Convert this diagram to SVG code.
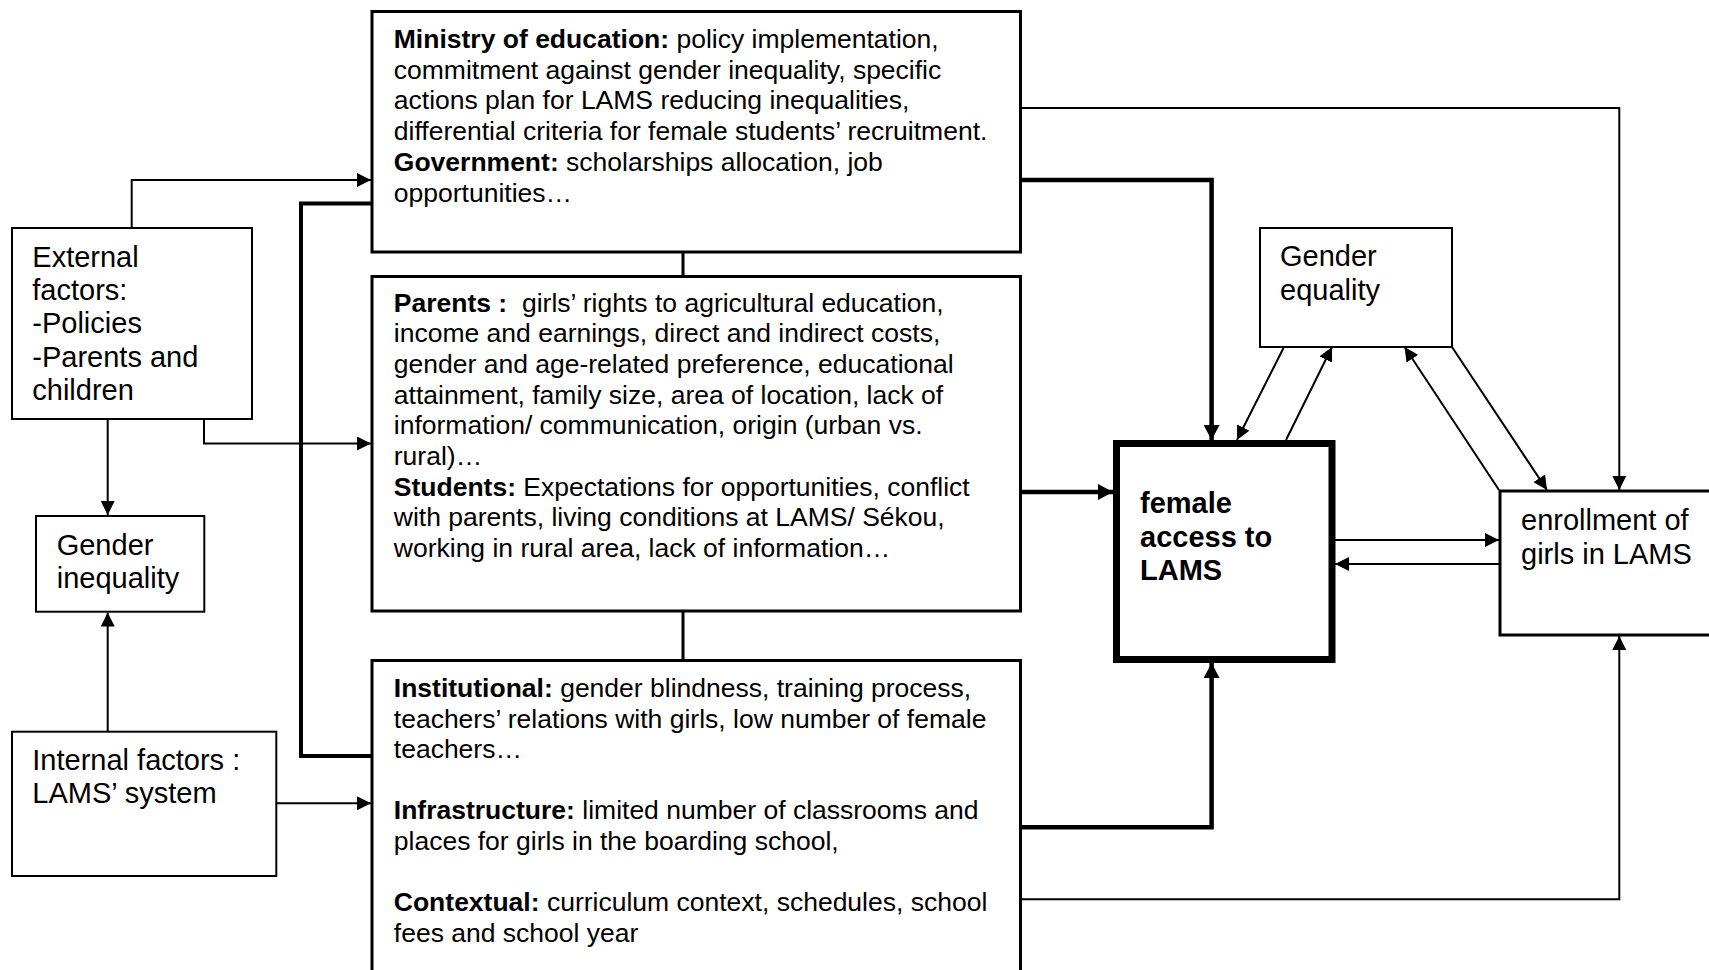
<svg xmlns="http://www.w3.org/2000/svg" width="1709" height="970" viewBox="0 0 1709 970">
  <style>
    .txt { font-family: "Liberation Sans", Arial, sans-serif; fill: #000; }
    .body { font-size: 26.5px; }
    .lbl { font-size: 29px; }
    .b { font-weight: bold; }
    .box { fill: #fff; stroke: #000; }
    .thin { stroke-width: 2; }
    .mid { stroke-width: 3; }
    .heavy { stroke-width: 7; }
    .conn { fill: none; stroke: #000; }
    .c-thin { stroke-width: 2; }
    .c-thick { stroke-width: 4.5; }
  </style>
  <defs>
    <marker id="arr" viewBox="0 0 14 14" refX="14" refY="7" markerWidth="14" markerHeight="14" markerUnits="userSpaceOnUse" orient="auto">
      <path d="M0,0 L14,7 L0,14 z" fill="#000"/>
    </marker>
    <marker id="arrL" viewBox="0 0 15 16" refX="15" refY="8" markerWidth="15" markerHeight="16" markerUnits="userSpaceOnUse" orient="auto">
      <path d="M0,0 L15,8 L0,16 z" fill="#000"/>
    </marker>
  </defs>
  <rect width="1709" height="970" fill="#fff"/>

  <!-- connectors -->
  <g id="connectors">
    <!-- external factors to ministry / parents / gender inequality -->
    <path class="conn c-thin" d="M131.7,228 V180 H371" marker-end="url(#arr)"/>
    <path class="conn c-thin" d="M204,419 V443.5 H371" marker-end="url(#arr)"/>
    <path class="conn c-thin" d="M107.7,419 V515" marker-end="url(#arr)"/>
    <!-- internal factors to gender inequality / institutional -->
    <path class="conn c-thin" d="M107.7,731.7 V612.5" marker-end="url(#arr)"/>
    <path class="conn c-thin" d="M276,803.3 H371" marker-end="url(#arr)"/>
    <!-- bracket linking ministry and institutional -->
    <path class="conn" stroke-width="4" d="M372,203.5 H301 V756 H372"/>
    <!-- links between the three stacked boxes -->
    <path class="conn mid" d="M683,252 V275"/>
    <path class="conn mid" d="M683,612 V660"/>
    <!-- thick arrows into female access -->
    <path class="conn c-thick" d="M1021,180 H1211.6 V440" marker-end="url(#arrL)"/>
    <path class="conn c-thick" d="M1021,492 H1113" marker-end="url(#arrL)"/>
    <path class="conn c-thick" d="M1021,827.3 H1211.6 V663" marker-end="url(#arrL)"/>
    <!-- thin arrows into enrollment -->
    <path class="conn c-thin" d="M1021,108 H1619.3 V490" marker-end="url(#arr)"/>
    <path class="conn c-thin" d="M1021,899.3 H1619.3 V636" marker-end="url(#arr)"/>
    <!-- female access <-> enrollment -->
    <path class="conn c-thin" d="M1335,540 H1499" marker-end="url(#arr)"/>
    <path class="conn c-thin" d="M1499,564 H1335" marker-end="url(#arr)"/>
    <!-- gender equality <-> female access -->
    <path class="conn c-thin" d="M1284,347 L1237,440" marker-end="url(#arr)"/>
    <path class="conn c-thin" d="M1286,440 L1332,347" marker-end="url(#arr)"/>
    <!-- gender equality <-> enrollment -->
    <path class="conn c-thin" d="M1452,347 L1547,490" marker-end="url(#arr)"/>
    <path class="conn c-thin" d="M1499,490 L1404.6,347" marker-end="url(#arr)"/>
  </g>

  <g id="ministry">
    <rect class="box mid" x="372" y="11.5" width="648.5" height="240.5"/>
    <text class="txt body">
      <tspan x="393.8" y="48"><tspan class="b">Ministry of education:</tspan> policy implementation,</tspan>
      <tspan x="393.8" y="78.7">commitment against gender inequality, specific</tspan>
      <tspan x="393.8" y="109.4">actions plan for LAMS reducing inequalities,</tspan>
      <tspan x="393.8" y="140.1">differential criteria for female students’ recruitment.</tspan>
      <tspan x="393.8" y="170.8"><tspan class="b">Government:</tspan> scholarships allocation, job</tspan>
      <tspan x="393.8" y="201.5">opportunities…</tspan>
    </text>
  </g>

  <g id="parents">
    <rect class="box mid" x="372" y="276.5" width="648.5" height="334.5"/>
    <text class="txt body" xml:space="preserve"><tspan x="393.8" y="311.7"><tspan class="b">Parents :</tspan>  girls’ rights to agricultural education,</tspan><tspan x="393.8" y="342.3">income and earnings, direct and indirect costs,</tspan><tspan x="393.8" y="373">gender and age-related preference, educational</tspan><tspan x="393.8" y="403.7">attainment, family size, area of location, lack of</tspan><tspan x="393.8" y="434.3">information/ communication, origin (urban vs.</tspan><tspan x="393.8" y="465">rural)…</tspan><tspan x="393.8" y="495.7"><tspan class="b">Students:</tspan> Expectations for opportunities, conflict</tspan><tspan x="393.8" y="526.3">with parents, living conditions at LAMS/ Sékou,</tspan><tspan x="393.8" y="557">working in rural area, lack of information…</tspan></text>
  </g>

  <g id="institutional">
    <rect class="box mid" x="372" y="660.5" width="648.5" height="320"/>
    <text class="txt body">
      <tspan x="393.8" y="697"><tspan class="b">Institutional:</tspan> gender blindness, training process,</tspan>
      <tspan x="393.8" y="727.7">teachers’ relations with girls, low number of female</tspan>
      <tspan x="393.8" y="758.3">teachers…</tspan>
      <tspan x="393.8" y="819"><tspan class="b">Infrastructure:</tspan> limited number of classrooms and</tspan>
      <tspan x="393.8" y="849.7">places for girls in the boarding school,</tspan>
      <tspan x="393.8" y="911"><tspan class="b">Contextual:</tspan> curriculum context, schedules, school</tspan>
      <tspan x="393.8" y="941.7">fees and school year</tspan>
    </text>
  </g>

  <g id="external-factors">
    <rect class="box thin" x="12" y="228" width="240" height="191"/>
    <text class="txt lbl">
      <tspan x="32.3" y="266.7">External</tspan>
      <tspan x="32.3" y="300">factors:</tspan>
      <tspan x="32.3" y="333.3">-Policies</tspan>
      <tspan x="32.3" y="366.7">-Parents and</tspan>
      <tspan x="32.3" y="400">children</tspan>
    </text>
  </g>

  <g id="gender-inequality">
    <rect class="box thin" x="36" y="516" width="168.3" height="95.7"/>
    <text class="txt lbl">
      <tspan x="56.7" y="555">Gender</tspan>
      <tspan x="56.7" y="588">inequality</tspan>
    </text>
  </g>

  <g id="internal-factors">
    <rect class="box thin" x="12" y="731.7" width="264.3" height="144.3"/>
    <text class="txt lbl">
      <tspan x="32.3" y="770">Internal factors :</tspan>
      <tspan x="32.3" y="803">LAMS’ system</tspan>
    </text>
  </g>

  <g id="female-access">
    <rect class="box heavy" x="1116.5" y="443.5" width="215.5" height="216"/>
    <text class="txt lbl b">
      <tspan x="1140" y="513">female</tspan>
      <tspan x="1140" y="546.7">access to</tspan>
      <tspan x="1140" y="580.4">LAMS</tspan>
    </text>
  </g>

  <g id="gender-equality">
    <rect class="box thin" x="1260" y="228" width="192" height="119"/>
    <text class="txt lbl">
      <tspan x="1280" y="266">Gender</tspan>
      <tspan x="1280" y="299.5">equality</tspan>
    </text>
  </g>

  <g id="enrollment">
    <rect class="box mid" x="1500" y="491" width="220" height="144"/>
    <text class="txt lbl">
      <tspan x="1521" y="530">enrollment of</tspan>
      <tspan x="1521" y="563.5">girls in LAMS</tspan>
    </text>
  </g>
</svg>
